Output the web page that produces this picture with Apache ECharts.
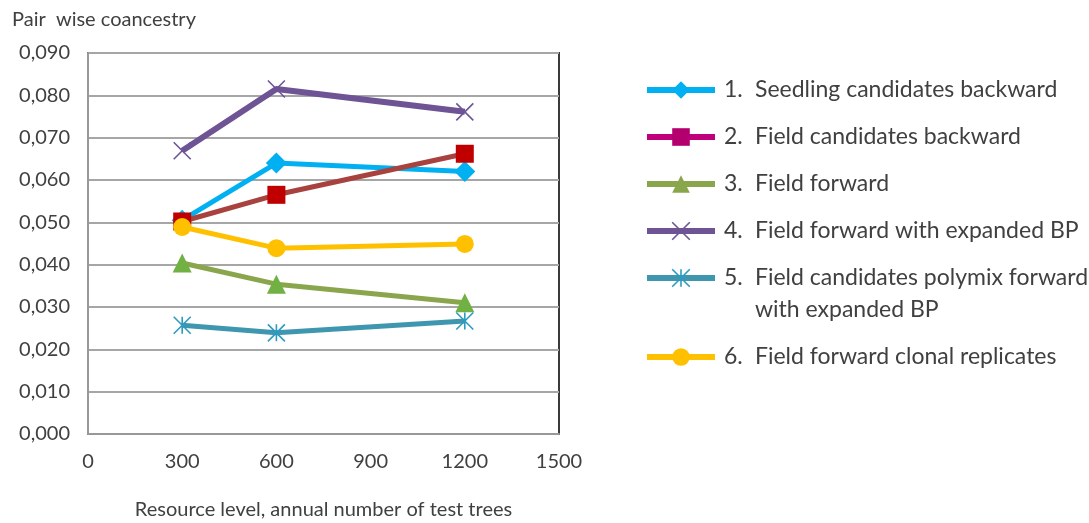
<!DOCTYPE html>
<html><head><meta charset="utf-8">
<script src="https://cdn.jsdelivr.net/npm/echarts@6/dist/echarts.min.js"></script>
<style>html,body{margin:0;padding:0;background:#fff}#c{width:1089px;height:523px}</style>
</head><body><div id="c"></div>
<script>
const xValues = [300, 600, 1200];
const xTicks = [0, 300, 600, 900, 1200, 1500];
const yTicks = [0, 0.01, 0.02, 0.03, 0.04, 0.05, 0.06, 0.07, 0.08, 0.09];
const seriesNames = [
  'Seedling candidates backward',
  'Field candidates backward',
  'Field forward',
  'Field forward with expanded BP',
  'Field candidates polymix forward',
  'Field forward clonal replicates'
];
const s1 = [0.0505, 0.0640, 0.0620];
const s2 = [0.0502, 0.0565, 0.0662];
const s3 = [0.0404, 0.0354, 0.0310];
const s4 = [0.0669, 0.0815, 0.0761];
const s5 = [0.0257, 0.0239, 0.0267];
const s6 = [0.0489, 0.0439, 0.0449];
const seriesValues = [s1, s2, s3, s4, s5, s6];

const FONT = 'Lato';
const TXT = '#404040';
const X_PATH = 'path://M0,0L10,10M10,0L0,10';
const STAR_PATH = 'path://M5,0L5,10M0,0L10,10M10,0L0,10';

const styles = [
  {symbol: 'diamond', size: 21, line: '#00B0F0', mark: '#00B0F0', legLine: '#00B0F0', legMark: '#00B0F0'},
  {symbol: 'rect', size: 18, line: '#A8423F', mark: '#C00000', legLine: '#C0007A', legMark: '#B4006E'},
  {symbol: 'triangle', size: 19, line: '#8AA64C', mark: '#71B043', legLine: '#8AA64C', legMark: '#8AA64C'},
  {symbol: X_PATH, size: 17, line: '#6E5494', mark: '#6E5494', legLine: '#6E5494', legMark: '#6E5494', stroke: true},
  {symbol: STAR_PATH, size: 17, line: '#3F97AF', mark: '#2E9BBE', legLine: '#3F97AF', legMark: '#2E9BBE', stroke: true},
  {symbol: 'circle', size: 18, line: '#FFC000', mark: '#FFC000', legLine: '#FFC000', legMark: '#FFC000'}
];

const series = seriesValues.map((vals, i) => {
  const st = styles[i];
  return {
    name: seriesNames[i],
    type: 'line',
    data: xValues.map((x, j) => [x, vals[j]]),
    symbol: st.symbol,
    symbolSize: st.size,
    showAllSymbol: true,
    lineStyle: {color: st.line, width: i === 3 ? 6 : 5},
    itemStyle: st.stroke ? {color: st.mark, borderColor: st.mark, borderWidth: 1.6} : {color: st.mark, borderWidth: 0},
    emphasis: {disabled: true},
    animation: false,
    z: 2 + i
  };
});

function legendItem(i) {
  const st = styles[i];
  return {
    name: seriesNames[i],
    itemStyle: st.stroke ? {color: st.legMark, borderColor: st.legMark, borderWidth: 1.6} : {color: st.legMark, borderWidth: 0},
    lineStyle: {color: st.legLine, width: 6}
  };
}
const LEG_FS = 23;
const legendRich = {
  n: {width: 31, padding: [0, 0, 0, 4], fontSize: LEG_FS, fontFamily: FONT, color: TXT, lineHeight: 28},
  t: {fontSize: LEG_FS, fontFamily: FONT, color: TXT, lineHeight: 28}
};
function legendFormatter(name) {
  const i = seriesNames.indexOf(name);
  return '{n|' + (i + 1) + '.}{t|' + name + '}';
}
const legendBase = {
  orient: 'vertical',
  left: 644,
  padding: 0,
  itemWidth: 68,
  itemHeight: 22,
  itemGap: 19,
  selectedMode: false,
  formatter: legendFormatter,
  textStyle: {rich: legendRich, fontSize: LEG_FS, fontFamily: FONT, color: TXT, lineHeight: 28}
};

const chart = echarts.init(document.getElementById('c'), null, {renderer: 'canvas'});
chart.setOption({
  animation: false,
  backgroundColor: '#fff',
  title: {
    text: 'Pair  wise coancestry',
    left: 12, top: 10, padding: 0,
    textStyle: {fontFamily: FONT, fontSize: 20, fontWeight: 'normal', color: TXT}
  },
  grid: {left: 88, right: 530, top: 53, bottom: 89, outerBoundsMode: 'none', containLabel: false,
    show: true, borderColor: '#3a3a3a', borderWidth: 2, backgroundColor: '#fff'},
  legend: [
    Object.assign({}, legendBase, {top: 76, data: [0, 1, 2, 3, 4].map(legendItem)}),
    Object.assign({}, legendBase, {top: 343, data: [5].map(legendItem)})
  ],
  graphic: [{
    type: 'text', left: 755, top: 296,
    style: {text: 'with expanded BP', fontFamily: FONT, fontSize: LEG_FS, fill: TXT, lineHeight: 28}
  }],
  xAxis: {
    type: 'value', min: xTicks[0], max: xTicks[xTicks.length - 1], interval: 300,
    name: 'Resource level, annual number of test trees',
    nameLocation: 'middle', nameGap: 66,
    nameTextStyle: {fontFamily: FONT, fontSize: 20, color: TXT},
    axisLine: {show: true, lineStyle: {color: '#989898', width: 2}},
    axisTick: {show: false},
    splitLine: {show: false},
    axisLabel: {margin: 18, fontFamily: FONT, fontSize: 20, color: TXT, formatter: v => String(v)}
  },
  yAxis: {
    type: 'value', min: yTicks[0], max: yTicks[yTicks.length - 1], interval: 0.01,
    axisLine: {show: true, lineStyle: {color: '#989898', width: 2}},
    axisTick: {show: false},
    splitLine: {show: true, lineStyle: {color: '#A6A6A6', width: 2}},
    axisLabel: {margin: 18, fontFamily: FONT, fontSize: 20, color: TXT,
      formatter: v => v.toFixed(3).replace('.', ',')}
  },
  series: series
});
</script></body></html>
